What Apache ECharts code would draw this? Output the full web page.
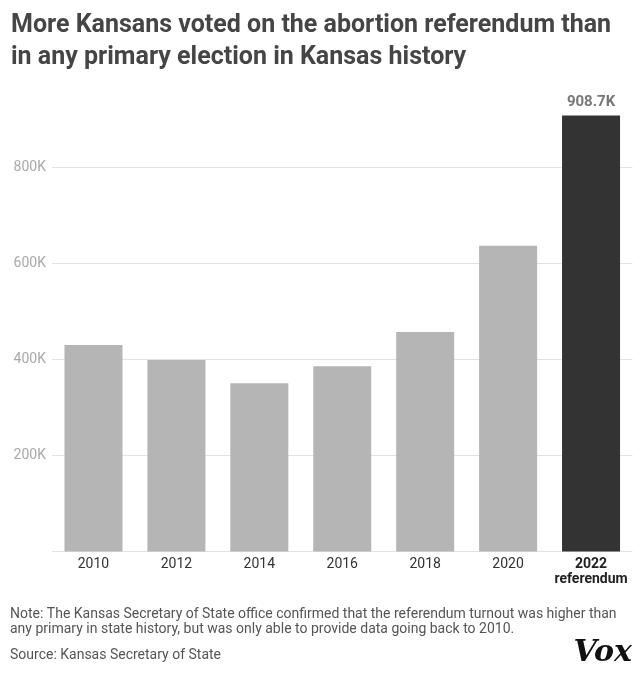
<!DOCTYPE html>
<html>
<head>
<meta charset="utf-8">
<script src="https://cdn.jsdelivr.net/npm/echarts@6/dist/echarts.min.js"></script>
<style>
html,body{margin:0;padding:0;background:#fff;}
#chart{width:642px;height:680px;}
</style>
</head>
<body>
<div id="chart"></div>
<script>
var categories = ['2010', '2012', '2014', '2016', '2018', '2020', '2022\nreferendum'];
var turnout = [430500, 399000, 351000, 386000, 457600, 637500, 908700];
var highlightIndex = 6;
var yTickValues = [0, 200000, 400000, 600000, 800000];

var chart = echarts.init(document.getElementById('chart'));
var FONT = 'Roboto, "Noto Sans", sans-serif';

var option = {
  backgroundColor: '#fff',
  animation: false,
  title: {
    text: 'More Kansans voted on the abortion referendum than\nin any primary election in Kansas history',
    left: 6,
    top: 5,
    textStyle: {
      fontFamily: FONT,
      fontWeight: 'bold',
      fontSize: 25,
      lineHeight: 32,
      color: '#454545'
    }
  },
  grid: { left: 52, right: 9.5, top: 71.8, bottom: 128.5, containLabel: false },
  xAxis: {
    type: 'category',
    data: categories,
    axisLine: { show: false },
    axisTick: { show: false },
    axisLabel: {
      interval: 0,
      margin: 5,
      fontFamily: FONT,
      fontSize: 14,
      color: '#333',
      lineHeight: 15,
      formatter: function (v, i) {
        if (i === highlightIndex) {
          return v.split('\n').map(function (s) { return '{b|' + s + '}'; }).join('\n');
        }
        return v;
      },
      rich: {
        b: { fontFamily: FONT, fontWeight: 'bold', fontSize: 14, color: '#222', lineHeight: 15 }
      }
    }
  },
  yAxis: {
    type: 'value',
    min: 0,
    max: 1000000,
    interval: 200000,
    axisLine: { show: false },
    axisTick: { show: false },
    axisLabel: {
      margin: 6,
      fontFamily: FONT,
      fontSize: 14,
      color: '#aaa',
      formatter: function (v) {
        if (v === 0 || yTickValues.indexOf(v) < 0) return '';
        return (v / 1000) + 'K';
      }
    },
    splitLine: {
      lineStyle: {
        color: ['#e2e2e2', '#e2e2e2', '#e2e2e2', '#e2e2e2', '#e2e2e2', 'rgba(0,0,0,0)'],
        width: 1
      }
    }
  },
  series: [{
    type: 'bar',
    barWidth: 58,
    data: turnout.map(function (v, i) {
      var d = { value: v, itemStyle: { color: i === highlightIndex ? '#333333' : '#b5b5b5' } };
      if (i === highlightIndex) {
        d.label = {
          show: true,
          position: 'top',
          distance: 6,
          fontFamily: FONT,
          fontWeight: 'bold',
          fontSize: 15,
          color: '#777',
          formatter: function (p) { return (p.value / 1000).toFixed(1) + 'K'; }
        };
      }
      return d;
    })
  }],
  graphic: [
    {
      type: 'text', left: 10, top: 607,
      style: {
        text: 'Note: The Kansas Secretary of State office confirmed that the referendum turnout was higher than\nany primary in state history, but was only able to provide data going back to 2010.',
        font: '14px ' + FONT,
        lineHeight: 15,
        fill: '#555'
      }
    },
    {
      type: 'text', left: 10, top: 648,
      style: { text: 'Source: Kansas Secretary of State', font: '14px ' + FONT, fill: '#555' }
    },
    {
      type: 'text', right: 10, top: 638,
      style: { text: 'Vox', font: 'italic bold 30px "DejaVu Serif", serif', fill: '#111' }
    }
  ]
};
chart.setOption(option);
</script>
</body>
</html>
